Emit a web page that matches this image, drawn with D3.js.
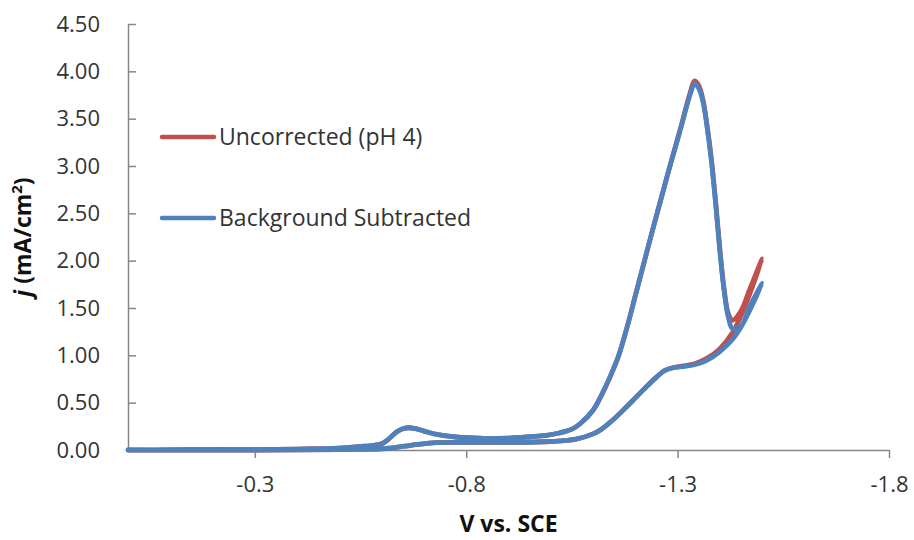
<!DOCTYPE html>
<html>
<head>
<meta charset="utf-8">
<script src="https://cdn.jsdelivr.net/npm/d3@7"></script>
<style>
  html, body { margin: 0; padding: 0; background: #fff; }
  svg { display: block; font-family: "Open Sans", Lato, sans-serif; }
</style>
</head>
<body>
<svg id="chart" width="914" height="540"></svg>
<script>
// Cyclic voltammogram: forward sweep 0 → -1.50 V, then the return sweep back to 0 V.
const potential = [
  0.00, -0.10, -0.20, -0.30, -0.40, -0.50, -0.56, -0.60, -0.615, -0.635, -0.65, -0.665,
  -0.68, -0.70, -0.73, -0.77, -0.80, -0.85, -0.90, -0.95, -0.99, -1.02, -1.05, -1.07,
  -1.10, -1.12, -1.14, -1.16, -1.18, -1.20, -1.22, -1.24, -1.26, -1.28, -1.30, -1.31,
  -1.32, -1.33, -1.34, -1.35, -1.36, -1.37, -1.38, -1.39, -1.40, -1.41, -1.42, -1.43,
  -1.45, -1.47, -1.50,
  -1.47, -1.45, -1.43, -1.40, -1.37, -1.34, -1.31, -1.29, -1.27, -1.25, -1.22, -1.20,
  -1.18, -1.15, -1.12, -1.10, -1.06, -1.00, -0.90, -0.80, -0.72, -0.67, -0.63, -0.60,
  -0.50, -0.30, 0.00
];

// Current density, mA/cm², uncorrected (pH 4)
const jUncorrected = [
  0.00, 0.00, 0.005, 0.005, 0.01, 0.02, 0.04, 0.065, 0.11, 0.19, 0.225, 0.235,
  0.225, 0.20, 0.165, 0.14, 0.13, 0.12, 0.125, 0.14, 0.155, 0.18, 0.22, 0.28,
  0.42, 0.58, 0.77, 0.99, 1.29, 1.63, 1.97, 2.31, 2.64, 2.97, 3.29, 3.45,
  3.62, 3.78, 3.90, 3.85, 3.70, 3.42, 3.07, 2.62, 2.12, 1.70, 1.44, 1.37,
  1.47, 1.69, 2.02,
  1.64, 1.42, 1.24, 1.07, 0.97, 0.91, 0.885, 0.87, 0.84, 0.77, 0.64, 0.55,
  0.46, 0.33, 0.22, 0.17, 0.115, 0.09, 0.08, 0.08, 0.075, 0.05, 0.025, 0.012,
  0.005, 0.00, 0.00
];

// Current density, mA/cm², after background subtraction
const jSubtracted = [
  0.00, 0.00, 0.005, 0.005, 0.01, 0.02, 0.04, 0.065, 0.11, 0.19, 0.225, 0.235,
  0.225, 0.20, 0.165, 0.14, 0.13, 0.12, 0.125, 0.14, 0.155, 0.18, 0.22, 0.28,
  0.42, 0.58, 0.77, 0.99, 1.29, 1.63, 1.97, 2.31, 2.64, 2.97, 3.28, 3.44,
  3.61, 3.76, 3.87, 3.82, 3.68, 3.40, 3.05, 2.60, 2.10, 1.68, 1.40, 1.28,
  1.31, 1.51, 1.76,
  1.47, 1.30, 1.17, 1.04, 0.95, 0.90, 0.88, 0.87, 0.84, 0.77, 0.64, 0.55,
  0.46, 0.33, 0.22, 0.17, 0.115, 0.09, 0.08, 0.08, 0.075, 0.05, 0.025, 0.012,
  0.005, 0.00, 0.00
];

const seriesNames = ["Uncorrected (pH 4)", "Background Subtracted"];
const seriesColors = ["#C0504D", "#4F81BD"];
const xTicks = [-0.3, -0.8, -1.3, -1.8];
const yTicks = [0, 0.5, 1, 1.5, 2, 2.5, 3, 3.5, 4, 4.5];

const svg = d3.select("#chart");
const axisColor = "#868686";
const textColor = "#333333";
const fontFamily = "'Open Sans', Lato, sans-serif";

const x = d3.scaleLinear().domain([0, -1.8]).range([128, 889]);
const y = d3.scaleLinear().domain([0, 4.5]).range([450, 24]);

// Y axis (ticks point into the plot, toward the right)
const yAxis = svg.append("g")
  .attr("transform", `translate(${x(0)},0)`)
  .call(d3.axisLeft(y).tickValues(yTicks).tickSize(-8).tickSizeOuter(0)
    .tickPadding(28).tickFormat(d => d.toFixed(2)));
yAxis.select(".domain").attr("stroke", axisColor).attr("stroke-width", 1.5);
yAxis.selectAll(".tick line").attr("stroke", axisColor).attr("stroke-width", 1.5);
yAxis.selectAll(".tick text").attr("fill", textColor)
  .style("font-size", "22px").style("font-family", fontFamily);

// X axis
const xAxis = svg.append("g")
  .attr("transform", `translate(0,${y(0)})`)
  .call(d3.axisBottom(x).tickValues(xTicks).tickSize(8).tickSizeOuter(0)
    .tickPadding(18).tickFormat(d => d.toFixed(1)));
xAxis.select(".domain").attr("stroke", axisColor).attr("stroke-width", 1.5);
xAxis.selectAll(".tick line").attr("stroke", axisColor).attr("stroke-width", 1.5);
xAxis.selectAll(".tick text").attr("fill", textColor)
  .style("font-size", "22px").style("font-family", fontFamily);

// Curves
const line = d3.line()
  .x(d => x(d[0]))
  .y(d => y(d[1]))
  .curve(d3.curveCatmullRom.alpha(0.5));

[jUncorrected, jSubtracted].forEach((vals, i) => {
  const pts = potential.map((v, k) => [v, vals[k]]);
  svg.append("path")
    .datum(pts)
    .attr("fill", "none")
    .attr("stroke", seriesColors[i])
    .attr("stroke-width", 4.8)
    .attr("stroke-linejoin", "round")
    .attr("stroke-linecap", "round")
    .attr("d", line);
});

// Legend
const legendY = [137, 218];
seriesNames.forEach((name, i) => {
  svg.append("line")
    .attr("x1", 162).attr("x2", 214)
    .attr("y1", legendY[i]).attr("y2", legendY[i])
    .attr("stroke", seriesColors[i]).attr("stroke-width", 4.5)
    .attr("stroke-linecap", "round");
  svg.append("text")
    .attr("x", 219).attr("y", legendY[i] + 8)
    .attr("fill", textColor)
    .style("font-size", "23px").style("font-family", fontFamily)
    .text(name);
});

// Axis titles
svg.append("text")
  .attr("x", (x(0) + x(-1.8)) / 2).attr("y", 532)
  .attr("text-anchor", "middle")
  .attr("fill", "#111")
  .style("font-size", "23px").style("font-weight", "bold").style("font-family", fontFamily)
  .text("V vs. SCE");

const yTitle = svg.append("text")
  .attr("transform", `translate(31,${(y(0) + y(4.5)) / 2}) rotate(-90)`)
  .attr("text-anchor", "middle")
  .attr("fill", "#111")
  .style("font-size", "23px").style("font-weight", "bold").style("font-family", fontFamily);
yTitle.append("tspan").style("font-style", "italic").text("j");
yTitle.append("tspan").text(" (mA/cm");
yTitle.append("tspan").attr("dy", -9).style("font-size", "15px").text("2");
yTitle.append("tspan").attr("dy", 9).text(")");
</script>
</body>
</html>
